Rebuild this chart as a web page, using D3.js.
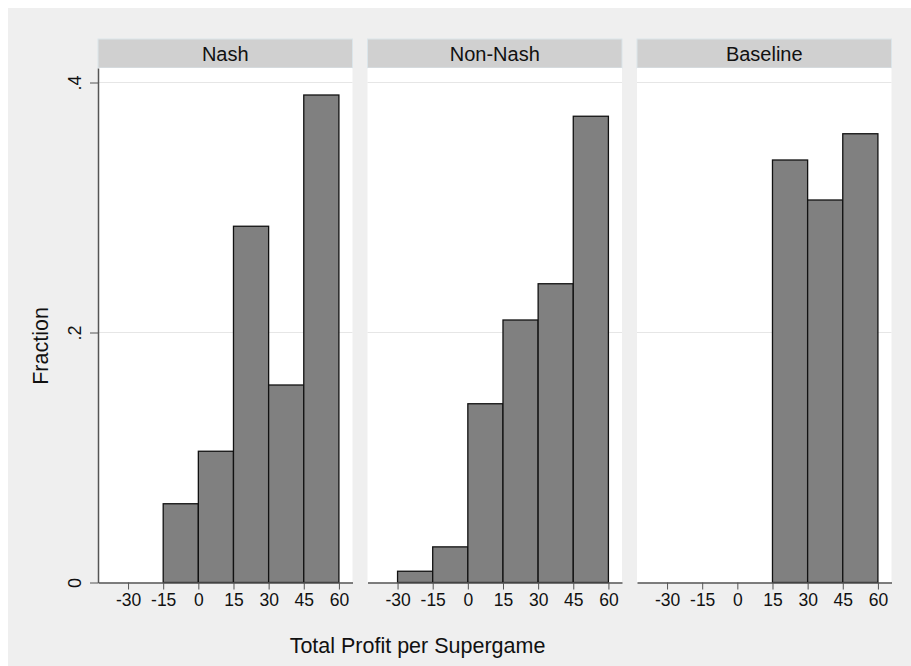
<!DOCTYPE html>
<html>
<head>
<meta charset="utf-8">
<script src="https://cdn.jsdelivr.net/npm/d3@7"></script>
<style>
  html, body { margin: 0; padding: 0; background: #ffffff; }
  svg { display: block; font-family: "Liberation Sans", Arial, sans-serif; }
</style>
</head>
<body>
<svg id="chart" width="911" height="666"></svg>
<script>
// Histogram of total profit per supergame, one panel per treatment
const panelNames = ["Nash", "Non-Nash", "Baseline"];
const binStarts = [-30, -15, 0, 15, 30, 45];
const binWidth = 15;
const nashFraction = [0, 0.063, 0.105, 0.285, 0.158, 0.390];
const nonNashFraction = [0.009, 0.0285, 0.143, 0.210, 0.239, 0.373];
const baselineFraction = [0, 0, 0, 0.338, 0.306, 0.359];
const xTickValues = [-30, -15, 0, 15, 30, 45, 60];
const xTickLabels = ["-30", "-15", "0", "15", "30", "45", "60"];
const yTickValues = [0, 0.2, 0.4];
const yTickLabels = ["0", ".2", ".4"];
const xTitle = "Total Profit per Supergame";
const yTitle = "Fraction";

const seriesByPanel = [nashFraction, nonNashFraction, baselineFraction];

const svg = d3.select("#chart");

// Outer graph region
svg.append("rect")
  .attr("x", 8).attr("y", 8)
  .attr("width", 903).attr("height", 658)
  .attr("fill", "#efefef");

const panelLeft0 = 98, panelStep = 269.5, panelWidth = 254.5;
const headerTop = 39, plotTop = 68, plotBottom = 582.5;

const y = d3.scaleLinear()
  .domain([0, (plotBottom - plotTop) / 1250])
  .range([plotBottom, plotTop]);

const x = d3.scaleLinear()
  .domain([-42.83, 65.8])
  .range([0, panelWidth]);

panelNames.forEach((name, i) => {
  const left = panelLeft0 + i * panelStep;
  const g = svg.append("g").attr("transform", `translate(${left},0)`);

  // Strip header
  g.append("rect")
    .attr("x", 0).attr("y", headerTop)
    .attr("width", panelWidth).attr("height", plotTop - headerTop)
    .attr("fill", "#d0d0d0")
    .attr("stroke", "#dbe5ea").attr("stroke-width", 1);
  g.append("text")
    .attr("x", panelWidth / 2).attr("y", headerTop + 21.5)
    .attr("text-anchor", "middle")
    .attr("font-size", 20)
    .attr("fill", "#111")
    .text(name);

  // Plot area
  g.append("rect")
    .attr("x", 0).attr("y", plotTop)
    .attr("width", panelWidth).attr("height", plotBottom - plotTop)
    .attr("fill", "#ffffff");

  // Horizontal grid lines
  g.selectAll("line.grid")
    .data(yTickValues.filter(v => v > 0))
    .enter().append("line")
    .attr("class", "grid")
    .attr("x1", 0).attr("x2", panelWidth)
    .attr("y1", d => y(d)).attr("y2", d => y(d))
    .attr("stroke", "#e6e6e6").attr("stroke-width", 1);

  // Bars
  const bins = binStarts.map((s, k) => ({ start: s, value: seriesByPanel[i][k] }))
    .filter(d => d.value > 0);
  g.selectAll("rect.bar")
    .data(bins)
    .enter().append("rect")
    .attr("class", "bar")
    .attr("x", d => x(d.start))
    .attr("y", d => y(d.value))
    .attr("width", d => x(d.start + binWidth) - x(d.start))
    .attr("height", d => y(0) - y(d.value))
    .attr("fill", "#808080")
    .attr("stroke", "#111")
    .attr("stroke-width", 1.3);

  // X axis
  const xAxis = d3.axisBottom(x)
    .tickValues(xTickValues)
    .tickSize(7)
    .tickPadding(4)
    .tickSizeOuter(0)
    .tickFormat((d, k) => xTickLabels[k]);
  const ax = g.append("g")
    .attr("transform", `translate(0,${plotBottom})`)
    .call(xAxis);
  ax.select(".domain").attr("stroke", "#555").attr("stroke-width", 1.5);
  ax.selectAll(".tick line").attr("stroke", "#555").attr("stroke-width", 1);
  ax.selectAll(".tick text")
    .attr("font-size", 17.5)
    .attr("font-family", "Liberation Sans, Arial, sans-serif")
    .attr("fill", "#111");

  // Y axis on the first panel only
  if (i === 0) {
    const yAxis = d3.axisLeft(y)
      .tickValues(yTickValues)
      .tickSize(8)
      .tickSizeOuter(0)
      .tickFormat((d, k) => yTickLabels[k]);
    const ay = g.append("g").call(yAxis);
    ay.select(".domain").attr("stroke", "#555").attr("stroke-width", 1.5);
    ay.selectAll(".tick line").attr("stroke", "#555").attr("stroke-width", 1);
    ay.selectAll(".tick text")
      .attr("font-size", 18)
      .attr("font-family", "Liberation Sans, Arial, sans-serif")
      .attr("fill", "#111")
      .attr("x", null).attr("dy", null)
      .attr("text-anchor", "middle")
      .attr("transform", "translate(-17,0) rotate(-90)");
  }
});

// Axis titles
svg.append("text")
  .attr("x", 417.5).attr("y", 653)
  .attr("text-anchor", "middle")
  .attr("font-size", 21.5)
  .attr("fill", "#111")
  .text(xTitle);

svg.append("text")
  .attr("transform", "translate(48,346) rotate(-90)")
  .attr("text-anchor", "middle")
  .attr("font-size", 21.5)
  .attr("fill", "#111")
  .text(yTitle);
</script>
</body>
</html>
